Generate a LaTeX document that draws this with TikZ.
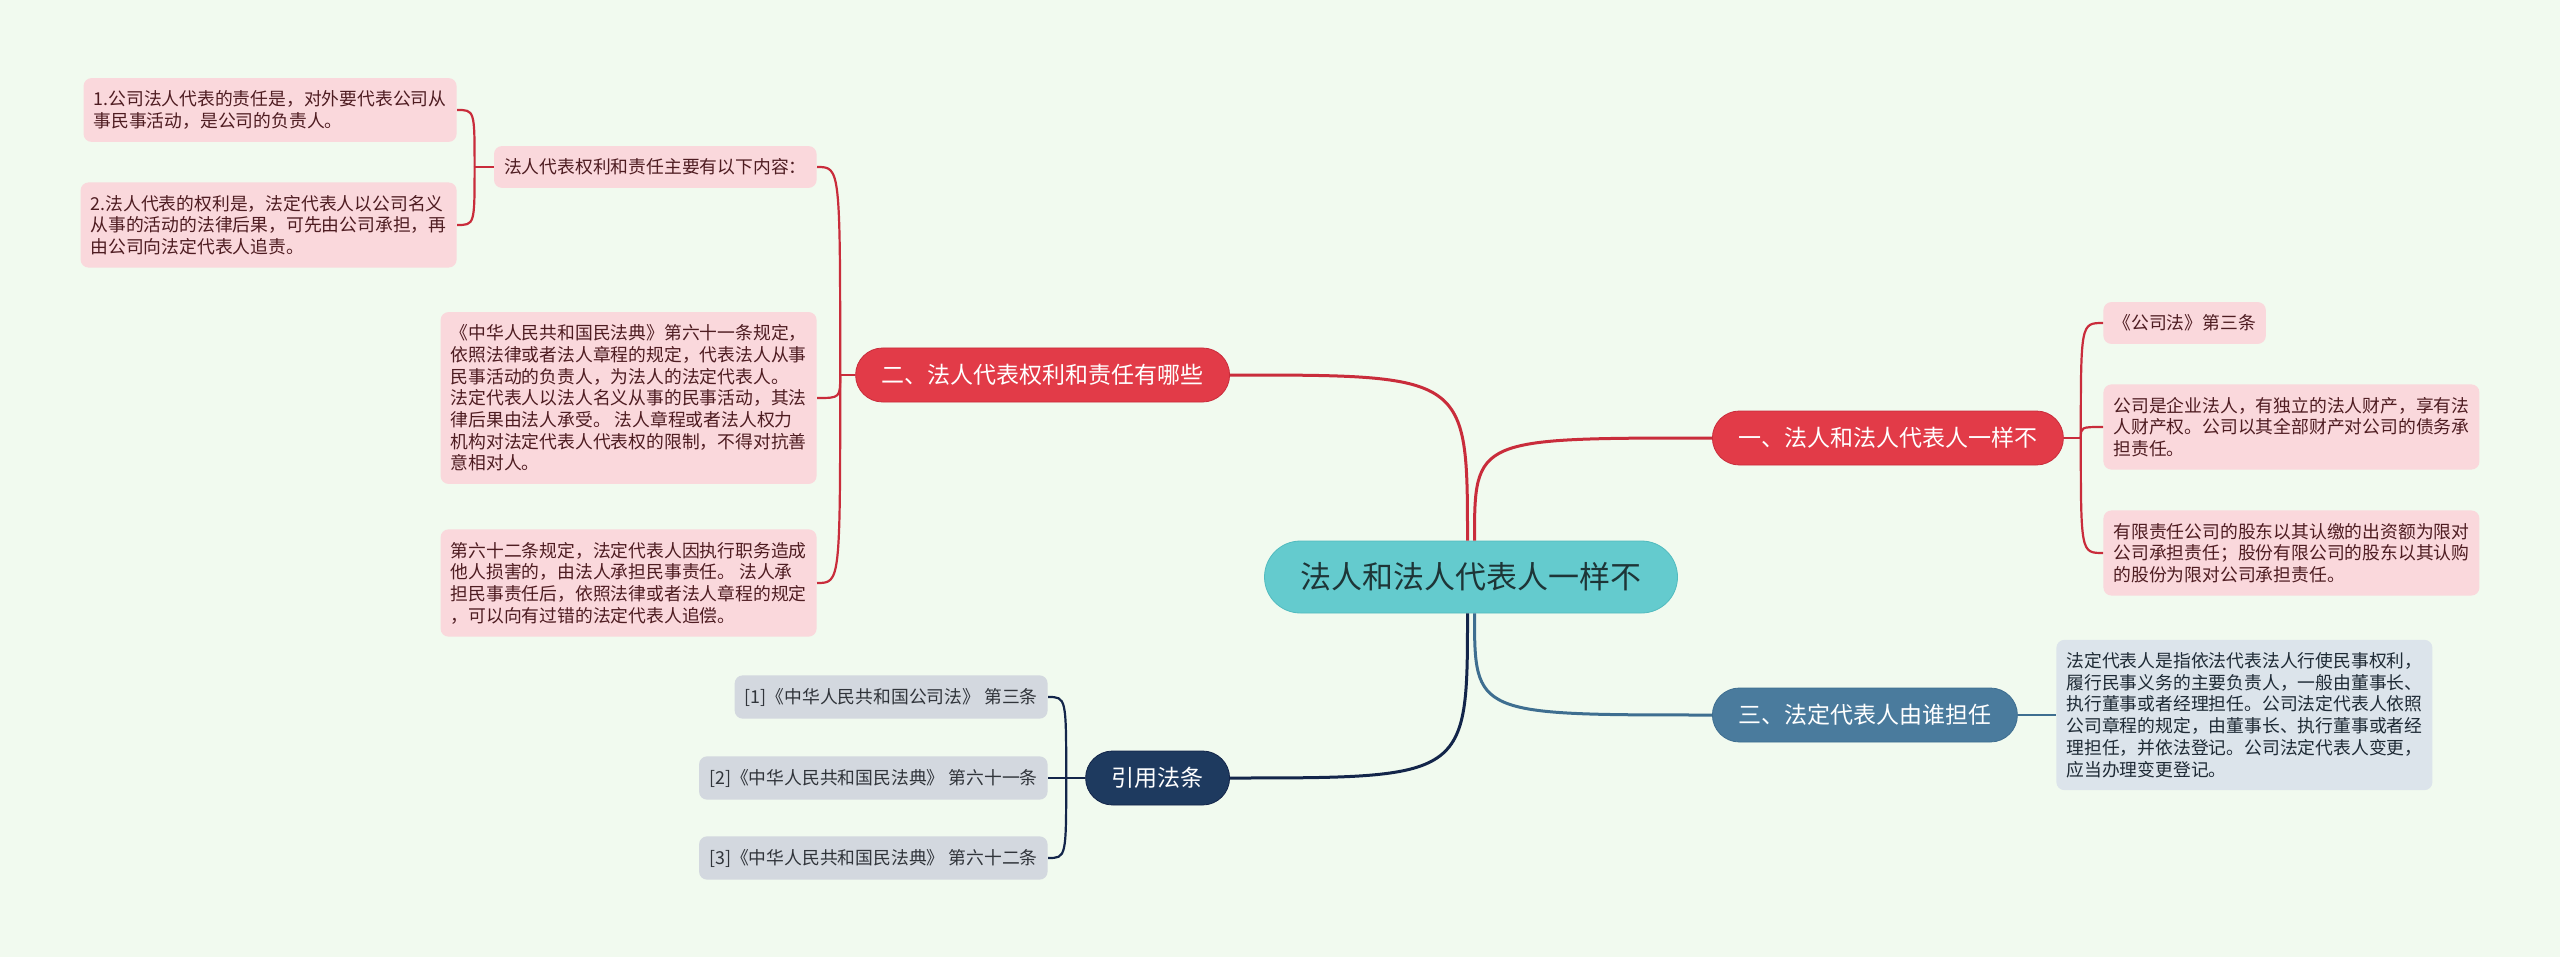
\documentclass[tikz,border=0pt]{standalone}
\usepackage{fontspec}
\newfontfamily\cjk{Noto Sans CJK SC}
\definecolor{bgmint}{HTML}{F1FAEF}
\definecolor{redmain}{HTML}{E23B48}
\definecolor{redline}{HTML}{C92C3B}
\definecolor{redleaf}{HTML}{FAD8DC}
\definecolor{redtext}{HTML}{4E1C21}
\definecolor{tealroot}{HTML}{64CBCE}
\definecolor{tealedge}{HTML}{52BBBF}
\definecolor{roottext}{HTML}{1E3537}
\definecolor{navymain}{HTML}{1E3A5F}
\definecolor{navyline}{HTML}{13254A}
\definecolor{grayleaf}{HTML}{D3D8DF}
\definecolor{graytext}{HTML}{30343A}
\definecolor{bluemain}{HTML}{4A7B9D}
\definecolor{blueline}{HTML}{3E6E90}
\definecolor{blueleaf}{HTML}{DCE4EB}
\definecolor{bluetext}{HTML}{1E2A35}
\tikzset{
    root/.style={
        fill = tealroot,
        draw = tealedge,
        rounded corners = 18pt,
        minimum height = 36pt,
        inner xsep = 18pt,
        text = roottext,
        font = \cjk\fontsize{15.5pt}{18pt}\selectfont
    },
    branch/.style={
        rounded corners = 13.5pt,
        minimum height = 27pt,
        inner xsep = 13pt,
        text = white,
        font = \cjk\fontsize{11.5pt}{13pt}\selectfont
    },
    leaf/.style={
        rounded corners = 4pt,
        inner xsep = 5pt,
        inner ysep = 6.3pt,
        align = left,
        font = \cjk\fontsize{8.9pt}{10.85pt}\selectfont
    },
    redleafbox/.style={leaf, fill = redleaf, text = redtext},
    grayleafbox/.style={leaf, fill = grayleaf, text = graytext},
    blueleafbox/.style={leaf, fill = blueleaf, text = bluetext},
    redwire/.style={draw = redline, line width = 1.5pt},
    navywire/.style={draw = navyline, line width = 1.5pt},
    bluewire/.style={draw = blueline, line width = 1.5pt},
    redbrace/.style={draw = redline, line width = 1.1pt},
    navybrace/.style={draw = navyline, line width = 1.1pt}
}
\begin{document}
\begin{tikzpicture}[x=0.5pt, y=-0.5pt]
    \fill[bgmint] (0,0) rectangle (2560,957);
    \useasboundingbox (0,0) rectangle (2560,957);
    % centre and main branches
    \node[root] (root) at (1471,577) {法人和法人代表人一样不};
    \node[branch, fill = redmain, draw = redline, anchor = east] (rights) at (1230,375) {二、法人代表权利和责任有哪些};
    \node[branch, fill = redmain, draw = redline, anchor = west] (same) at (1712,438) {一、法人和法人代表人一样不};
    \node[branch, fill = bluemain, draw = blueline, anchor = west] (who) at (1712,715) {三、法定代表人由谁担任};
    \node[branch, fill = navymain, draw = navyline, anchor = east] (cite) at (1230,778) {引用法条};
    % left branch leaves
    \node[redleafbox, anchor = east] (rightsA) at (817,167) {法人代表权利和责任主要有以下内容：};
    \node[redleafbox, anchor = east] (rightsA1) at (457,110) {1.公司法人代表的责任是，对外要代表公司从\\事民事活动，是公司的负责人。};
    \node[redleafbox, anchor = east] (rightsA2) at (457,225) {2.法人代表的权利是，法定代表人以公司名义\\从事的活动的法律后果，可先由公司承担，再\\由公司向法定代表人追责。};
    \node[redleafbox, anchor = east] (rightsB) at (817,398) {《中华人民共和国民法典》第六十一条规定，\\依照法律或者法人章程的规定，代表法人从事\\民事活动的负责人，为法人的法定代表人。\\法定代表人以法人名义从事的民事活动，其法\\律后果由法人承受。 法人章程或者法人权力\\机构对法定代表人代表权的限制，不得对抗善\\意相对人。};
    \node[redleafbox, anchor = east] (rightsC) at (817,583) {第六十二条规定，法定代表人因执行职务造成\\他人损害的，由法人承担民事责任。 法人承\\担民事责任后，依照法律或者法人章程的规定\\，可以向有过错的法定代表人追偿。};
    % right branch leaves
    \node[redleafbox, anchor = west] (same1) at (2103,323) {《公司法》第三条};
    \node[redleafbox, anchor = west] (same2) at (2103,427) {公司是企业法人，有独立的法人财产，享有法\\人财产权。公司以其全部财产对公司的债务承\\担责任。};
    \node[redleafbox, anchor = west] (same3) at (2103,553) {有限责任公司的股东以其认缴的出资额为限对\\公司承担责任；股份有限公司的股东以其认购\\的股份为限对公司承担责任。};
    \node[blueleafbox, anchor = west] (who1) at (2056,715) {法定代表人是指依法代表法人行使民事权利，\\履行民事义务的主要负责人，一般由董事长、\\执行董事或者经理担任。公司法定代表人依照\\公司章程的规定，由董事长、执行董事或者经\\理担任，并依法登记。公司法定代表人变更，\\应当办理变更登记。};
    % citations
    \node[grayleafbox, anchor = east] (cite1) at (1048,697) {[1]《中华人民共和国公司法》 第三条};
    \node[grayleafbox, anchor = east] (cite2) at (1048,778) {[2]《中华人民共和国民法典》 第六十一条};
    \node[grayleafbox, anchor = east] (cite3) at (1048,858) {[3]《中华人民共和国民法典》 第六十二条};
    % main curves
    \coordinate (rootTL) at ([xshift=-1.75pt]root.north);
    \coordinate (rootTR) at ([xshift=1.75pt]root.north);
    \coordinate (rootBL) at ([xshift=-1.75pt]root.south);
    \coordinate (rootBR) at ([xshift=1.75pt]root.south);
    \draw[redwire] (rootTL) .. controls (rootTL |- rights.east) .. (rights.east);
    \draw[redwire] (rootTR) .. controls (rootTR |- same.west) .. (same.west);
    \draw[navywire] (rootBL) .. controls (rootBL |- cite.east) .. (cite.east);
    \draw[bluewire] (rootBR) .. controls (rootBR |- who.west) .. (who.west);
    % braces
    \coordinate (rightsJ) at ([xshift=-7.5pt]rights.west);
    \draw[redbrace] (rights.west) -- (rightsJ);
    \foreach \leafname in {rightsA, rightsB, rightsC}
        \draw[redbrace] (rightsJ) .. controls (rightsJ |- \leafname.east) .. (\leafname.east);
    \coordinate (rightsAJ) at ([xshift=-9.5pt]rightsA.west);
    \draw[redbrace] (rightsA.west) -- (rightsAJ);
    \foreach \leafname in {rightsA1, rightsA2}
        \draw[redbrace] (rightsAJ) .. controls (rightsAJ |- \leafname.east) .. (\leafname.east);
    \coordinate (sameJ) at ([xshift=8.5pt]same.east);
    \draw[redbrace] (same.east) -- (sameJ);
    \foreach \leafname in {same1, same2, same3}
        \draw[redbrace] (sameJ) .. controls (sameJ |- \leafname.west) .. (\leafname.west);
    \draw[bluewire, line width = 1.1pt] (who.east) -- (who1.west);
    \coordinate (citeJ) at ([xshift=-9.5pt]cite.west);
    \draw[navybrace] (cite.west) -- (citeJ);
    \foreach \leafname in {cite1, cite2, cite3}
        \draw[navybrace] (citeJ) .. controls (citeJ |- \leafname.east) .. (\leafname.east);
\end{tikzpicture}
\end{document}
